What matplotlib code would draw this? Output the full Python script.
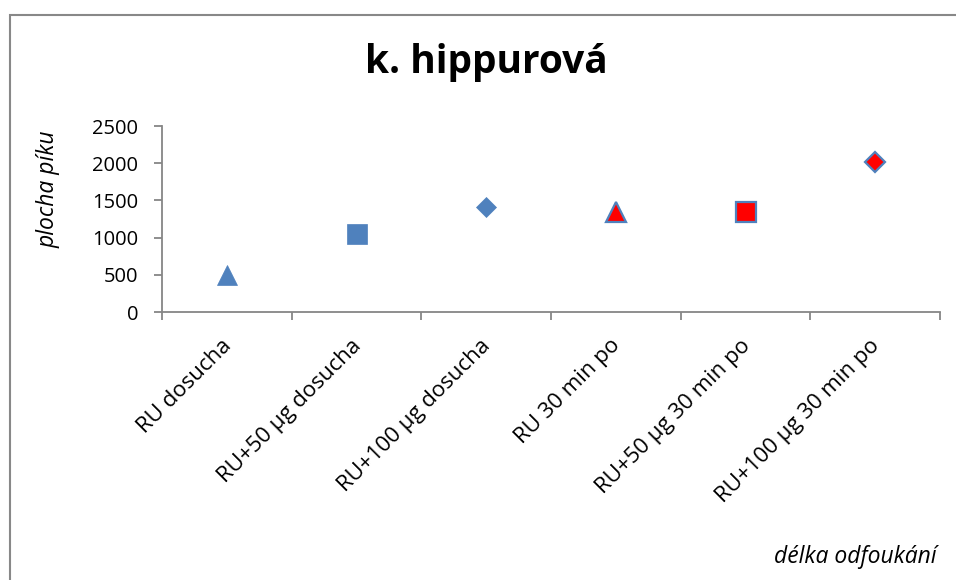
import matplotlib
matplotlib.use("Agg")
import matplotlib.pyplot as plt
from matplotlib.patches import Rectangle

categories = ["RU dosucha", "RU+50 µg dosucha", "RU+100 µg dosucha",
              "RU 30 min po", "RU+50 µg 30 min po", "RU+100 µg 30 min po"]
values = [500, 1050, 1410, 1350, 1350, 2020]
markers = ["^", "s", "D", "^", "s", "D"]
faces = ["#4F81BD", "#4F81BD", "#4F81BD", "#FF0000", "#FF0000", "#FF0000"]
yticks = [0, 500, 1000, 1500, 2000, 2500]

plt.rcParams['font.family'] = ['Open Sans', 'DejaVu Sans']

W, H = 956, 580
fig = plt.figure(figsize=(W/100, H/100), dpi=100)
fig.patch.set_facecolor("white")

# chart frame
fig.patches.append(Rectangle((9.5/W, -0.1), 1.2, 1 - 14.5/H + 0.1, transform=fig.transFigure,
                             fill=False, edgecolor="#888888", linewidth=1.5))

ax = fig.add_axes([162/W, 1 - 312/H, (940-162)/W, (312-126)/H])
sizes = [14.5, 14, 10.5, 14, 14, 10]
for i, (v, m, fc) in enumerate(zip(values, markers, faces)):
    ec = "#4F81BD"
    ax.plot([i], [v], marker=m, markersize=sizes[i], markerfacecolor=fc,
            markeredgecolor=ec, markeredgewidth=1.6 if fc == "#FF0000" else 0.5,
            linestyle="none", clip_on=False)

ax.set_xlim(-0.5, len(categories) - 0.5)
ax.set_ylim(0, 2500)
ax.set_yticks(yticks)
ax.set_yticklabels([str(t) for t in yticks], fontsize=14.5)
ax.set_xticks([i - 0.5 for i in range(len(categories) + 1)])
ax.set_xticklabels([])
for s in ["top", "right"]:
    ax.spines[s].set_visible(False)
for s in ["left", "bottom"]:
    ax.spines[s].set_color("#868686")
    ax.spines[s].set_linewidth(1.3)
ax.tick_params(axis="both", color="#868686", width=1.3, length=6, direction="out")
ax.tick_params(axis="y", pad=11)

for i, c in enumerate(categories):
    ax.annotate(c, xy=(i, 0), xycoords="data", xytext=(1, -22), textcoords="offset points",
                rotation=45, ha="right", va="center", rotation_mode="anchor", fontsize=16)

fig.text(365/W, 1 - 63/H, "k. hippurová", fontsize=28, fontweight="bold", ha="left", va="center")
fig.text(48/W, 1 - 189/H, "plocha píku", fontsize=16.5, style="italic", rotation=90,
         ha="center", va="center")
fig.text(937/W, 1 - 557/H, "délka odfoukání", fontsize=16.5, style="italic", ha="right", va="center")

fig.savefig("out.png", dpi=100, facecolor="white")
